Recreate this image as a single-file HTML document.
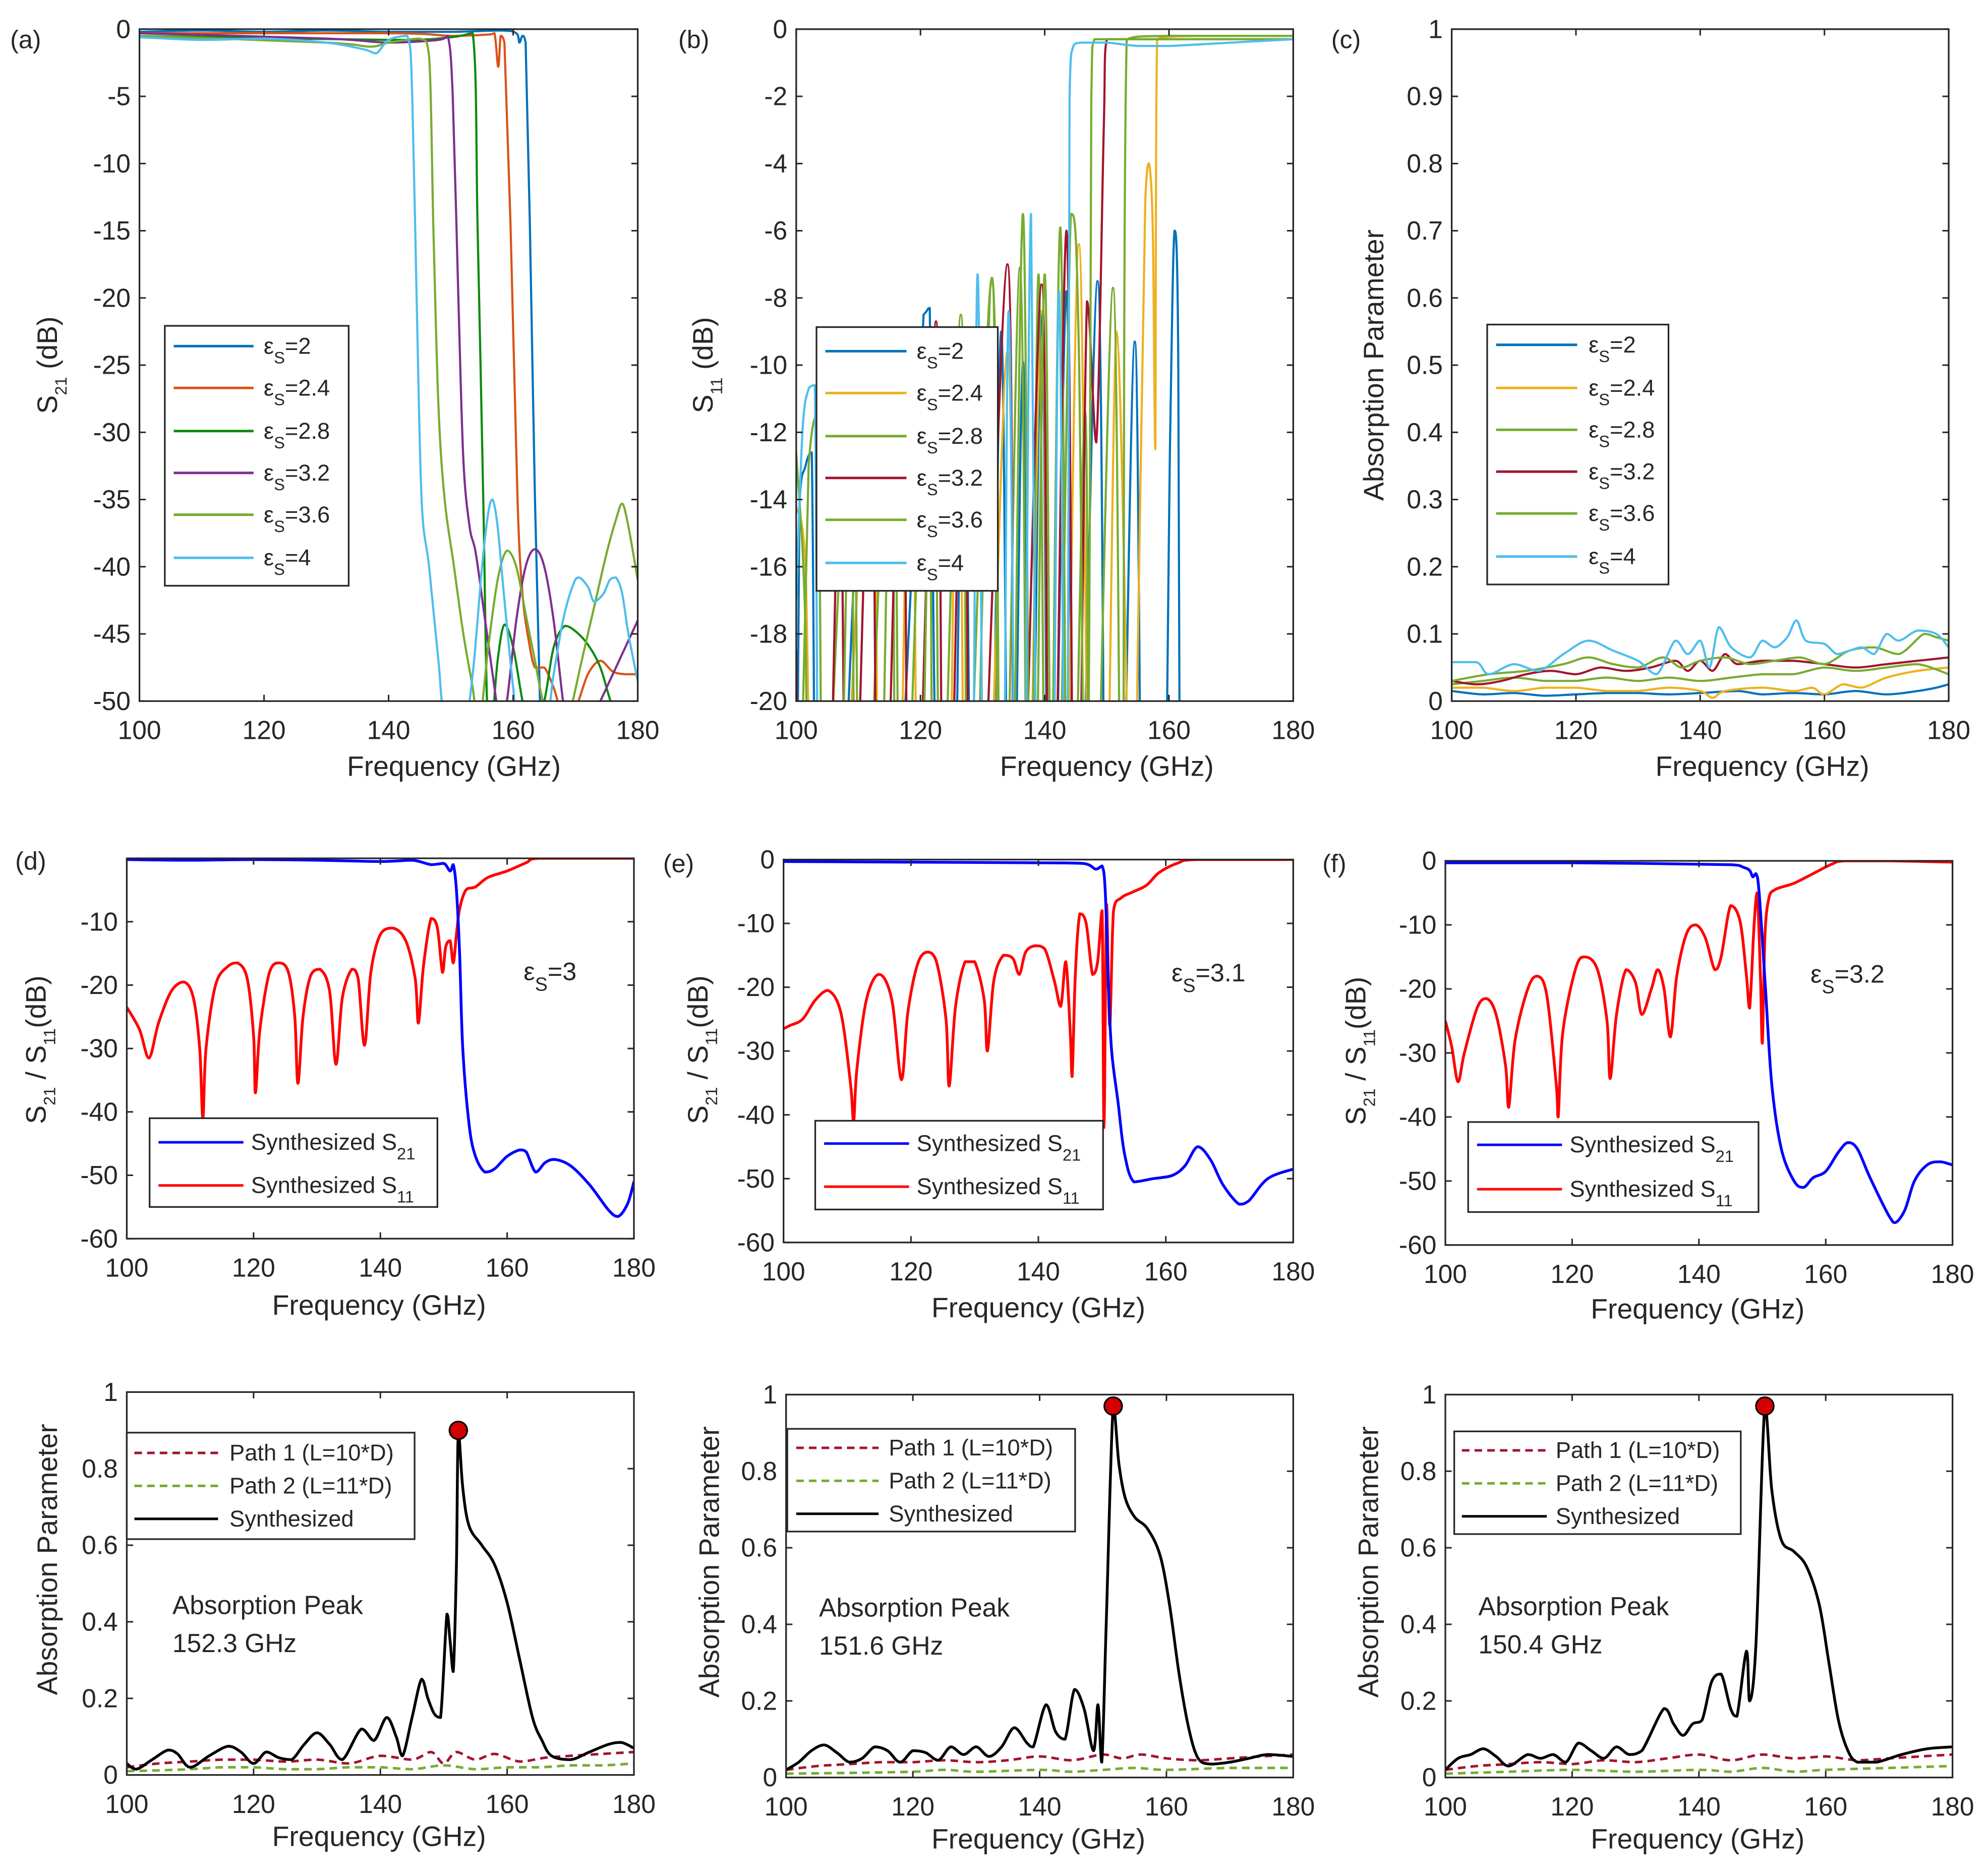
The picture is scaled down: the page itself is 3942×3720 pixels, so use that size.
<!DOCTYPE html>
<html><head><meta charset="utf-8"><style>
html,body{margin:0;padding:0;background:#fff;}
svg{display:block;font-family:"Liberation Sans",sans-serif;}
</style></head><body>
<svg id="fig" width="3942" height="3720" viewBox="0 0 1568 1479.7" preserveAspectRatio="none" xmlns="http://www.w3.org/2000/svg"></svg>
<script>
// ---------- data ----------
const xTicks=[100,120,140,160,180];
const aTicks=[0,-5,-10,-15,-20,-25,-30,-35,-40,-45,-50];
const bTicks=[0,-2,-4,-6,-8,-10,-12,-14,-16,-18,-20];
const cTicks=[0,0.1,0.2,0.3,0.4,0.5,0.6,0.7,0.8,0.9,1];
const dTicks=[-10,-20,-30,-40,-50,-60];
const eTicks=[0,-10,-20,-30,-40,-50,-60];
const gTicks=[0,0.2,0.4,0.6,0.8,1];
const epsLabels=["2","2.4","2.8","3.2","3.6","4"];

const a2=[[100,-0.2],[110,-0.1],[120,-0.2],[130,-0.1],[140,-0.2],[150,-0.2],[158,-0.1],[160.5,-0.3],[161,-1],[161.5,-0.5],[162,-1],[162.7,-15],[163.5,-35],[164.3,-50],[165,-55]];
const a24=[[100,-0.3],[140,-0.3],[150,-0.5],[156,-0.4],[157,-0.3],[157.6,-2.8],[158,-0.5],[158.6,-1],[159.6,-15],[160.7,-35],[161.5,-42],[162.5,-45.5],[163.5,-47.5],[165,-47.5],[166.5,-49],[168,-51],[170,-50.5],[172,-48],[174,-47],[176,-47.8],[178,-48],[180,-48]];
const a28=[[100,-0.5],[140,-0.8],[150,-0.6],[153.5,-0.3],[154.3,-15],[155.2,-35],[155.8,-50],[156.5,-52],[157.5,-47],[158.6,-44.3],[160,-46],[161.5,-50],[163,-53],[165,-50],[166.5,-46],[168.3,-44.4],[170,-44.8],[172,-45.8],[174,-47.5],[176,-50.5],[178,-52]];
const a32=[[100,-0.3],[130,-0.7],[140,-1],[148,-0.8],[149.5,-0.5],[150.3,-5],[151.2,-20],[152,-32],[153,-37],[154,-39],[155.5,-44],[157,-49],[158,-52],[159,-50],[160.5,-44],[162,-40],[163.5,-38.7],[165,-40],[166.5,-44],[168,-50],[169,-53],[172,-52],[174,-50],[176,-48],[178,-46],[180,-44]];
const a36=[[100,-0.5],[130,-1],[137,-1.3],[140,-1],[145,-0.7],[146.5,-2],[147.2,-15],[148,-28],[149,-35],[150.5,-40],[152,-45],[153.5,-49],[154.5,-52],[156,-46],[157.5,-41],[159,-38.8],[160.5,-40],[162,-43.5],[163.5,-47],[165,-50.5],[167,-53],[169,-51],[171,-47],[173,-43],[175,-39],[176.5,-36.5],[177.5,-35.3],[178.5,-37],[180,-41]];
const a4=[[100,-0.6],[110,-0.8],[120,-0.7],[130,-1],[136,-1.5],[138,-1.8],[140,-0.8],[143,-0.5],[143.8,-5],[144.5,-20],[145.3,-35],[146.5,-40],[148,-47],[149,-51],[152,-52],[153.5,-48],[155,-40],[156,-36],[156.7,-35],[157.5,-37],[158.5,-42],[160,-49],[161,-52],[165,-52],[166.5,-48],[168,-44],[169.5,-41.5],[170.5,-40.8],[172,-41.5],[173,-42.6],[174.5,-42],[175.5,-41],[176.5,-40.8],[177.5,-42],[178.5,-45],[180,-48.5]];

const b2=[[100,-30],[100.5,-14.3],[101.5,-13],[102.5,-12.6],[103.5,-30],[106,-30],[111.5,-9.5],[113.5,-30],[115,-30],[120.5,-8.5],[121.5,-8.3],[123,-30],[125,-30],[127,-9.5],[128.5,-30],[131,-30],[133,-9],[134.5,-30],[136.5,-9.9],[137.5,-30],[139.5,-8.5],[141,-30],[143.5,-7.8],[145,-30],[148.5,-7.5],[150,-30],[152,-30],[154.5,-9.3],[156,-30],[158.8,-30],[160.2,-12],[160.9,-6],[161.5,-10],[161.8,-30]];
const b24=[[100,-14.2],[101.5,-16],[103,-30],[106,-30],[112,-11],[113.5,-30],[116,-30],[118.5,-8.9],[120,-30],[124,-30],[126,-9],[127.5,-30],[130,-30],[134,-9.6],[135.5,-30],[137,-30],[139.5,-8.4],[141,-30],[143,-30],[145.5,-6.4],[147.5,-30],[149.5,-30],[151.5,-9],[153,-18],[154,-30],[155,-18.3],[156.2,-5],[156.8,-4],[157.4,-6],[157.8,-12.5],[158.1,-0.3],[165,-0.2],[180,-0.2]];
const b28=[[100,-12.6],[101.5,-18],[102,-30],[103.5,-30],[108.5,-12],[110,-30],[115,-10.5],[116.5,-30],[121,-9.5],[122.5,-30],[126.5,-8.5],[128,-30],[131.5,-7.4],[133,-30],[136,-7.1],[137.5,-30],[139,-7.3],[140.5,-30],[142.5,-5.9],[144,-30],[146.5,-11.4],[147.5,-30],[151,-7.7],[152.5,-30],[153.2,-0.3],[160,-0.2],[180,-0.2]];
const b32=[[100,-18.5],[101,-30],[104.5,-30],[107,-13],[108.5,-30],[112,-11],[113.5,-30],[117,-9.5],[118.5,-30],[122.5,-8.7],[124,-30],[127,-9],[128.5,-30],[134,-7],[135.5,-30],[139.5,-7.6],[141,-30],[143.5,-6],[145,-30],[146.8,-8.1],[148.3,-12.3],[149.5,-3],[150,-0.3],[155,-0.3],[165,-0.3],[180,-0.3]];
const b36=[[100,-30],[102,-13],[103.5,-11.5],[104.5,-30],[106.5,-30],[109,-10.5],[110.5,-30],[113,-30],[115.5,-9.5],[117,-30],[119.5,-30],[122,-9],[123.5,-30],[126.5,-30],[131.5,-7.4],[133,-30],[134.5,-30],[136.5,-5.5],[138,-30],[140,-7.3],[141.5,-30],[144.2,-5.5],[145.5,-9.6],[146.8,-30],[147.5,-2],[148,-0.3],[155,-0.3],[180,-0.3]];
const b4=[[100,-17],[101,-12],[102,-10.7],[103,-10.6],[104,-30],[107,-30],[110,-30],[113,-30],[116,-30],[119,-30],[122,-30],[125,-30],[128,-30],[129.2,-7.3],[130.5,-30],[133,-30],[134.2,-8.4],[135.5,-30],[136.5,-30],[137.8,-5.5],[139,-30],[141,-30],[142.3,-7.8],[143.5,-30],[144,-2],[144.6,-0.5],[146,-0.4],[150,-0.4],[155,-0.5],[160,-0.5],[170,-0.4],[180,-0.3]];

const c2=[[100,0.015],[105,0.01],[110,0.012],[115,0.008],[120,0.01],[125,0.012],[130,0.012],[135,0.01],[140,0.012],[146,0.015],[150,0.01],[155,0.012],[160,0.01],[165,0.015],[170,0.01],[175,0.015],[178,0.02],[180,0.025]];
const c24=[[100,0.02],[105,0.02],[110,0.015],[115,0.02],[120,0.02],[125,0.015],[130,0.015],[135,0.02],[140,0.015],[142,0.005],[144,0.015],[150,0.02],[155,0.015],[158,0.02],[160,0.01],[163,0.025],[166,0.02],[170,0.035],[175,0.045],[180,0.05]];
const c28=[[100,0.025],[105,0.03],[110,0.035],[115,0.03],[120,0.03],[125,0.035],[130,0.03],[135,0.035],[140,0.03],[145,0.035],[150,0.04],[155,0.04],[160,0.05],[165,0.045],[170,0.05],[175,0.055],[180,0.04]];
const c32=[[100,0.03],[104,0.025],[108,0.03],[112,0.04],[116,0.045],[120,0.04],[124,0.05],[128,0.045],[132,0.05],[136,0.06],[138,0.045],[140,0.06],[142,0.045],[144,0.07],[146,0.055],[150,0.06],[155,0.06],[160,0.055],[165,0.05],[170,0.055],[175,0.06],[180,0.065]];
const c36=[[100,0.03],[106,0.04],[112,0.045],[118,0.055],[122,0.065],[126,0.055],[130,0.05],[134,0.065],[137,0.05],[140,0.06],[144,0.065],[148,0.055],[152,0.06],[156,0.065],[160,0.055],[164,0.075],[168,0.08],[172,0.07],[176,0.1],[178,0.095],[180,0.09]];
const c4=[[100,0.058],[104,0.058],[106,0.04],[110,0.055],[114,0.045],[118,0.07],[122,0.09],[126,0.075],[130,0.06],[133,0.04],[136,0.09],[138,0.07],[140,0.09],[141.5,0.05],[143,0.11],[145,0.08],[148,0.065],[150,0.09],[152,0.08],[154,0.095],[155.5,0.12],[157,0.09],[160,0.085],[162,0.07],[164,0.075],[166,0.08],[168,0.07],[170,0.1],[172,0.09],[175,0.105],[178,0.1],[180,0.08]];

const dS21=[[100,-0.2],[110,-0.3],[120,-0.2],[130,-0.3],[140,-0.5],[145,-0.3],[148,-1],[150,-0.8],[151,-2],[151.5,-1],[152,-5],[152.5,-15],[153,-30],[154,-42],[155,-47],[156.5,-49.5],[158,-49],[160,-47],[162,-46],[163,-46.3],[164.5,-49.5],[166,-48],[167.5,-47.5],[170,-48.5],[173,-51.5],[176,-55.5],[177.5,-56.5],[179,-54.5],[180,-51]];
const dS11=[[100,-23.5],[102,-27],[103.5,-31.5],[105,-26],[107,-21],[109,-19.5],[110.5,-22],[111.5,-30],[112,-41],[112.5,-30],[114,-20],[116,-17],[117.5,-16.5],[119,-19],[120,-28],[120.3,-37],[121,-27],[122.5,-18],[124,-16.5],[125.5,-18],[126.5,-25],[127,-35.5],[127.8,-25],[129,-18.5],[130.5,-17.5],[132,-21],[133,-32.5],[134,-22],[135.5,-17.5],[136.5,-19],[137.5,-29.5],[138.5,-18],[140,-12],[142,-11],[144,-13],[145.5,-19],[146,-26],[146.8,-17],[148,-9.5],[149,-11],[149.8,-18],[150.3,-14],[151,-13],[151.5,-16.5],[152,-12],[152.5,-8],[153.5,-5],[155,-4.5],[157,-3],[160,-2],[163,-0.7],[165,0],[180,0]];
const eS21=[[100,-0.3],[120,-0.4],[140,-0.5],[147,-0.6],[149,-1.5],[150,-1],[150.5,-5],[151,-20],[151.5,-30],[152.5,-38],[153.5,-46],[155,-50.5],[158,-50],[161,-49.5],[163,-48],[165,-45],[167,-47],[169,-51],[171.5,-54],[173,-53.5],[176,-50],[180,-48.5]];
const eS11=[[100,-26.5],[101,-26],[103,-25],[105,-22],[107,-20.5],[109,-24],[110.5,-35],[111,-41],[111.5,-33],[113,-22],[115,-18],[117,-22],[118.5,-34.5],[119.5,-24],[121,-16.5],[122.5,-14.5],[124,-16],[125.5,-25],[126,-35.5],[127,-23],[128.5,-16],[130,-16],[131.5,-22],[132,-30],[133,-19],[134.5,-15],[136,-15.5],[137,-18],[138,-14.5],[139.5,-13.5],[141,-14],[142.5,-19],[143.5,-23],[144.3,-16],[145,-27],[145.3,-34],[145.8,-18],[146.5,-8.5],[147.5,-10],[148.5,-18],[149.3,-16],[150,-8],[150.3,-42],[150.7,-7],[151.2,-26],[151.8,-8],[153,-6],[155,-5],[157,-4],[159,-2],[162,-0.5],[165,0],[180,0]];
const fS21=[[100,-0.3],[120,-0.3],[145,-0.6],[147,-1],[148,-1.5],[148.5,-2.5],[149,-2],[149.5,-5],[150.5,-20],[151.5,-35],[153,-45],[155,-50],[156.5,-51],[158,-49.5],[160,-48.5],[162,-45.5],[163.5,-44],[165,-45],[167,-49.5],[170,-55.5],[171,-56.5],[172.5,-54.5],[174,-50],[176,-47.5],[178,-47],[180,-47.5]];
const fS11=[[100,-25],[101,-29],[102,-34.5],[103,-30],[105,-23],[106.5,-21.5],[108,-24],[109.5,-32],[110,-38.5],[111,-28],[113,-20],[114.5,-18],[116,-21],[117.5,-35],[117.8,-40],[118.5,-27],[120.5,-17],[122,-15],[124,-17],[125.5,-25],[126,-34],[127,-24],[128.5,-17],[130,-19],[131,-24],[132.5,-20],[133.5,-17],[134.5,-20],[135.5,-27.5],[136.5,-18],[138,-11.5],[139.5,-10],[141,-12],[142.5,-17],[143.5,-15],[145,-7],[146.5,-9.5],[147.5,-18],[148,-23],[148.7,-10],[149.2,-5],[149.7,-18],[150,-28.5],[150.4,-12],[151,-6],[152,-4.5],[155,-3.5],[158,-2],[161,-0.5],[163,0],[170,0],[180,-0.2]];

const gSyn=[[100,0.03],[101.5,0.015],[104,0.04],[106.5,0.065],[108,0.055],[110,0.02],[113,0.05],[116,0.075],[118,0.06],[120,0.03],[122,0.06],[124,0.045],[126,0.04],[128,0.08],[130,0.11],[132,0.08],[134,0.04],[137,0.12],[139,0.09],[141,0.15],[142.5,0.1],[143.5,0.05],[145,0.15],[146.5,0.25],[147.5,0.2],[148.5,0.16],[149.5,0.15],[150.5,0.42],[151,0.35],[151.5,0.27],[152,0.55],[152.3,0.9],[153,0.75],[154,0.65],[156,0.6],[158,0.55],[160,0.45],[162,0.3],[164,0.15],[165.5,0.09],[167,0.05],[170,0.04],[173,0.06],[176,0.08],[178,0.085],[180,0.07]];
const gP1=[[100,0.02],[105,0.03],[110,0.035],[115,0.04],[120,0.04],[125,0.035],[130,0.04],[135,0.03],[140,0.05],[145,0.04],[148,0.06],[150,0.03],[152,0.06],[155,0.04],[158,0.055],[162,0.035],[166,0.045],[170,0.05],[175,0.055],[180,0.06]];
const gP2=[[100,0.01],[105,0.012],[110,0.015],[115,0.02],[120,0.02],[125,0.015],[130,0.015],[135,0.02],[140,0.02],[145,0.015],[150,0.025],[155,0.015],[160,0.02],[165,0.02],[170,0.025],[175,0.025],[180,0.03]];
const hSyn=[[100,0.02],[102,0.04],[104,0.07],[106,0.085],[108,0.065],[110,0.04],[112,0.05],[114,0.08],[116,0.07],[118,0.04],[120,0.07],[122,0.065],[124,0.045],[126,0.08],[128,0.06],[130,0.08],[132,0.055],[134,0.08],[136,0.13],[138,0.09],[139,0.08],[141,0.19],[142.5,0.12],[144,0.1],[145.5,0.23],[147,0.18],[148.5,0.07],[149.2,0.19],[149.8,0.04],[150.5,0.4],[151.6,0.97],[152.5,0.82],[153.5,0.73],[155,0.68],[157,0.65],[159,0.58],[160.5,0.45],[162,0.27],[163.5,0.13],[165,0.05],[167,0.035],[170,0.04],[173,0.05],[176,0.06],[180,0.055]];
const hP1=[[100,0.02],[105,0.03],[110,0.035],[115,0.04],[120,0.04],[125,0.045],[130,0.04],[135,0.045],[140,0.055],[145,0.045],[150,0.06],[153,0.05],[156,0.06],[160,0.05],[165,0.045],[170,0.05],[175,0.055],[180,0.06]];
const hP2=[[100,0.01],[110,0.012],[120,0.015],[125,0.02],[130,0.015],[140,0.02],[145,0.015],[150,0.02],[155,0.025],[160,0.02],[170,0.025],[180,0.025]];
const iSyn=[[100,0.02],[102,0.05],[104,0.06],[106,0.075],[108,0.055],[110,0.03],[113,0.06],[115,0.05],[117,0.06],[119,0.04],[121,0.09],[123,0.07],[125,0.05],[127,0.08],[129,0.06],[131,0.07],[134.5,0.18],[136,0.14],[137.5,0.11],[139,0.14],[140.5,0.15],[142,0.25],[143.5,0.27],[145,0.18],[146,0.16],[147.5,0.33],[148,0.2],[149,0.35],[150.4,0.97],[151.5,0.75],[153,0.62],[155,0.59],[157,0.55],[159,0.45],[160.5,0.3],[162,0.15],[163.5,0.07],[165,0.04],[168,0.04],[172,0.06],[176,0.075],[180,0.08]];
const iP1=[[100,0.02],[105,0.03],[110,0.035],[115,0.04],[120,0.035],[125,0.045],[130,0.04],[135,0.05],[140,0.06],[145,0.045],[150,0.06],[155,0.05],[160,0.055],[165,0.045],[170,0.05],[175,0.055],[180,0.06]];
const iP2=[[100,0.01],[110,0.015],[120,0.02],[130,0.015],[140,0.02],[145,0.015],[150,0.025],[155,0.015],[160,0.02],[170,0.025],[180,0.03]];
const peakF=[152.3,151.6,150.4];
const peakV=[0.9,0.97,0.97];

// ---------- drawing ----------
const NS='http://www.w3.org/2000/svg';
const svg=document.getElementById('fig');
const C1=['#0072BD','#D95319','#0E8A0E','#7E2F8E','#77AC30','#4DBEEE'];
const C2=['#0072BD','#EDB120','#77AC30','#A2142F','#77AC30','#4DBEEE'];
function mk(tag,parent){const e=document.createElementNS(NS,tag);(parent||svg).appendChild(e);return e;}
let clipId=0;
function makePanel(id,x0,x1,yT,yB,vT,vB,yt){
  const p={x0,x1,yT,yB,vT,vB};
  p.sx=f=>x0+(f-100)/80*(x1-x0);
  p.sy=v=>yT+(v-vT)/(vB-vT)*(yB-yT);
  const g=mk('g');
  
  
  const cp=mk('clipPath',g);cp.setAttribute('id','clip'+(++clipId));
  const r=mk('rect',cp);r.setAttribute('x',x0);r.setAttribute('y',yT);r.setAttribute('width',x1-x0);r.setAttribute('height',yB-yT);
  p.clip='url(#clip'+clipId+')';
  const bg=mk('rect',g);bg.setAttribute('x',x0);bg.setAttribute('y',yT);bg.setAttribute('width',x1-x0);bg.setAttribute('height',yB-yT);bg.setAttribute('fill','#fff');
  p.series=mk('g',g);
  
  
  const ax=mk('g',g);
  
  
  xTicks.forEach(t=>{
    const x=p.sx(t);
    [[yB,yB-5],[yT,yT+5]].forEach(([a,b])=>{const l=mk('line',ax);l.setAttribute('x1',x);l.setAttribute('x2',x);l.setAttribute('y1',a);l.setAttribute('y2',b);l.setAttribute('stroke','#262626');l.setAttribute('stroke-width',1.2);});
    const tx=mk('text',ax);
    
    
    tx.setAttribute('x',x);tx.setAttribute('y',yB+30);tx.setAttribute('text-anchor','middle');tx.setAttribute('font-size',20.5);tx.setAttribute('fill','#262626');tx.textContent=t;
  });
  yt.forEach(t=>{
    const y=p.sy(t);
    [[x0,x0+5],[x1,x1-5]].forEach(([a,b])=>{const l=mk('line',ax);l.setAttribute('y1',y);l.setAttribute('y2',y);l.setAttribute('x1',a);l.setAttribute('x2',b);l.setAttribute('stroke','#262626');l.setAttribute('stroke-width',1.2);});
    const tx=mk('text',ax);
    
    
    tx.setAttribute('x',x0-7);tx.setAttribute('y',y+7);tx.setAttribute('text-anchor','end');tx.setAttribute('font-size',20.5);tx.setAttribute('fill','#262626');tx.textContent=t;
  });
  const bx=mk('rect',ax);bx.setAttribute('x',x0);bx.setAttribute('y',yT);bx.setAttribute('width',x1-x0);bx.setAttribute('height',yB-yT);bx.setAttribute('fill','none');bx.setAttribute('stroke','#262626');bx.setAttribute('stroke-width',1.3);
  return p;
}
const clampv=(v,a,b)=>Math.max(Math.min(a,b),Math.min(Math.max(a,b),v));
function line(p,data,color,w,smooth,dash,name){
  const pts=data.map(d=>[p.sx(d[0]),p.sy(d[1])]);
  let d='M'+pts[0][0]+','+pts[0][1];
  for(let i=1;i<pts.length;i++){
    if(smooth){
      const p0=pts[i-2]||pts[i-1],p1=pts[i-1],p2=pts[i],p3=pts[i+1]||pts[i];
      const c1=[p1[0]+(p2[0]-p0[0])/6,clampv(p1[1]+(p2[1]-p0[1])/6,p1[1],p2[1])];
      const c2=[p2[0]-(p3[0]-p1[0])/6,clampv(p2[1]-(p3[1]-p1[1])/6,p1[1],p2[1])];
      c1[0]=clampv(c1[0],p1[0],p2[0]);c2[0]=clampv(c2[0],p1[0],p2[0]);
      d+=' C'+c1+' '+c2+' '+p2;
    } else d+=' L'+pts[i];
  }
  const e=mk('path',p.series);
  
  
  e.setAttribute('d',d);e.setAttribute('fill','none');e.setAttribute('stroke',color);e.setAttribute('stroke-width',w);
  e.setAttribute('stroke-linejoin','round');e.setAttribute('clip-path',p.clip);
  if(dash)e.setAttribute('stroke-dasharray',dash);
}
function txt(x,y,html,size,opts){
  const t=mk('text');
  t.setAttribute('x',x);t.setAttribute('y',y);t.setAttribute('font-size',size);t.setAttribute('fill','#262626');
  if(opts&&opts.anchor)t.setAttribute('text-anchor',opts.anchor);
  if(opts&&opts.rot)t.setAttribute('transform','rotate(-90 '+x+' '+y+')');
  t.innerHTML=html;
  return t;
}
function legend(name,x,y,w,h,ys,lx0,lx1,tx,items){
  const g=mk('g');
  
  
  const r=mk('rect',g);r.setAttribute('x',x);r.setAttribute('y',y);r.setAttribute('width',w);r.setAttribute('height',h);r.setAttribute('fill','#fff');r.setAttribute('stroke','#262626');r.setAttribute('stroke-width',1.3);
  items.forEach((it,i)=>{
    const e=mk('g',g);
    
    
    const l=mk('line',e);l.setAttribute('x1',lx0);l.setAttribute('x2',lx1);l.setAttribute('y1',ys[i]);l.setAttribute('y2',ys[i]);l.setAttribute('stroke',it[0]);l.setAttribute('stroke-width',2);
    if(it[2])l.setAttribute('stroke-dasharray',it[2]);
    const t=mk('text',e);t.setAttribute('x',tx);t.setAttribute('y',ys[i]+6);t.setAttribute('font-size',18);t.setAttribute('fill','#262626');t.innerHTML=it[1];
  });
}
const sub=s=>'<tspan baseline-shift="sub" font-size="13">'+s+'</tspan>';
const eps=v=>'ε'+sub('S')+'<tspan>='+v+'</tspan>';

const pa=makePanel('a',110,503,23,553,0,-50,aTicks);
[a2,a24,a28,a32,a36,a4].forEach((s,i)=>line(pa,s,C1[i],1.7,true,null,'s21-eps-'+epsLabels[i]));
const pb=makePanel('b',628,1020,23,553,0,-20,bTicks);
[b2,b24,b28,b32,b36,b4].forEach((s,i)=>line(pb,s,C2[i],1.7,true,null,'s11-eps-'+epsLabels[i]));
const pc=makePanel('c',1145,1537,23,553,1,0,cTicks);
[c2,c24,c28,c32,c36,c4].forEach((s,i)=>line(pc,s,C2[i],1.7,true,null,'absorption-eps-'+epsLabels[i]));
const pd=makePanel('d',100,500,677,977,0,-60,dTicks);
line(pd,dS11,'#ff0000',2.2,true,null,'synth-s11');line(pd,dS21,'#0000ff',2.2,true,null,'synth-s21');
const pe=makePanel('e',618,1020,678,980,0,-60,eTicks);
line(pe,eS11,'#ff0000',2.2,true,null,'synth-s11');line(pe,eS21,'#0000ff',2.2,true,null,'synth-s21');
const pf=makePanel('f',1140,1540,679,982,0,-60,eTicks);
line(pf,fS11,'#ff0000',2.2,true,null,'synth-s11');line(pf,fS21,'#0000ff',2.2,true,null,'synth-s21');
const pg=makePanel('g',100,500,1098,1400,1,0,gTicks);
const ph=makePanel('h',620,1020,1100,1402,1,0,gTicks);
const pi=makePanel('i',1140,1540,1100,1402,1,0,gTicks);
[[pg,gP1,gP2,gSyn],[ph,hP1,hP2,hSyn],[pi,iP1,iP2,iSyn]].forEach(([p,p1,p2,s],k)=>{
  line(p,p1,'#A2142F',2,true,'6,4','path-1');
  line(p,p2,'#77AC30',2,true,'6,4','path-2');
  line(p,s,'#000',2.2,true,null,'synthesized');
  const c=mk('circle',p.series);
  
  
  c.setAttribute('cx',p.sx(peakF[k]));c.setAttribute('cy',p.sy(peakV[k]));c.setAttribute('r',7);c.setAttribute('fill','#d40000');c.setAttribute('stroke','#000');c.setAttribute('stroke-width',1.3);
});

const eItems1=epsLabels.map((v,i)=>[C1[i],eps(v)]);
const eItems2=epsLabels.map((v,i)=>[C2[i],eps(v)]);
legend('legend-a',130,257,145,205,[273,306,340,373,406,440],137,200,208,eItems1);
legend('legend-b',644,258,143,208,[277,310,344,377,410,444],651,715,723,eItems2);
legend('legend-c',1173,256,143,205,[272,306,339,372,405,439],1180,1244,1253,eItems2);
const sItems=[['#0000ff','Synthesized S'+sub('21')],['#ff0000','Synthesized S'+sub('11')]];
legend('legend-d',118,882,227,70,[901,935],125,192,198,sItems);
legend('legend-e',643,884,227,70,[902,936],650,717,723,sItems);
legend('legend-f',1158,885,229,71,[903,938],1165,1232,1238,sItems);
const pItems=[['#A2142F','Path 1 (L=10*D)','6,4'],['#77AC30','Path 2 (L=11*D)','6,4'],['#000','Synthesized']];
legend('legend-g',100,1130,227,84,[1146,1172,1198],106,172,181,pItems);
legend('legend-h',621,1127,227,81,[1142,1168,1194],628,693,701,pItems);
legend('legend-i',1147,1129,226,81,[1144,1170,1196],1153,1220,1227,pItems);

let t;
[['(a)',8,38],['(b)',535,38],['(c)',1050,38],['(d)',12,686],['(e)',523,688],['(f)',1043,688]].forEach(a=>{
  t=txt(a[1],a[2],a[0],20);
  
  
});
[[358,612],[873,612],[1390,612],[299,1037],[819,1039],[1339,1040],[299,1456],[819,1458],[1339,1458]].forEach(a=>{
  t=txt(a[0],a[1],'Frequency (GHz)',22,{anchor:'middle'});
  
  
});
[[45,288,'S'+sub('21')+'<tspan> (dB)</tspan>'],[562,288,'S'+sub('11')+'<tspan> (dB)</tspan>'],[1091,288,'Absorption Parameter'],
 [36,828,'S'+sub('21')+'<tspan> / S</tspan>'+sub('11')+'<tspan>(dB)</tspan>'],[558,828,'S'+sub('21')+'<tspan> / S</tspan>'+sub('11')+'<tspan>(dB)</tspan>'],[1077,829,'S'+sub('21')+'<tspan> / S</tspan>'+sub('11')+'<tspan>(dB)</tspan>'],
 [45,1230,'Absorption Parameter'],[567,1232,'Absorption Parameter'],[1087,1232,'Absorption Parameter']].forEach(a=>{
  t=txt(a[0],a[1],a[2],22,{anchor:'middle',rot:true});
  
  
});
[[413,773,'3'],[924,774,'3.1'],[1428,775,'3.2']].forEach(a=>{
  t=txt(a[0],a[1],'ε<tspan baseline-shift="sub" font-size="15">S</tspan><tspan>='+a[2]+'</tspan>',20);
  
  
});
[[136,1273,'152.3 GHz'],[646,1275,'151.6 GHz'],[1166,1274,'150.4 GHz']].forEach(a=>{
  t=txt(a[0],a[1],'Absorption Peak',20.5);
  
  
  t=txt(a[0],a[1]+30,a[2],20.5);
  
  
});
</script>
</body></html>
